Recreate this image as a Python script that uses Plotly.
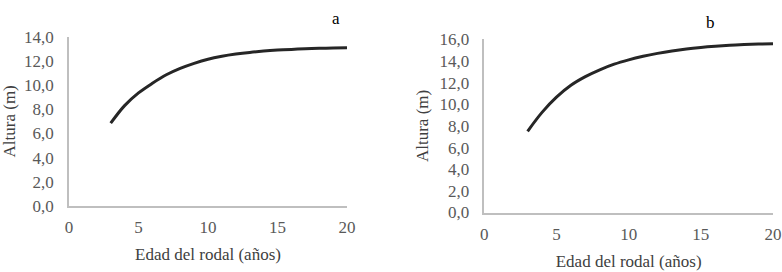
import plotly.graph_objects as go

# Data
edad = [3, 4, 5, 6, 7, 8, 9, 10, 11, 12, 13, 14, 15, 16, 17, 18, 19, 20]
altura_a = [6.85, 8.3, 9.35, 10.15, 10.85, 11.38, 11.8, 12.14, 12.38, 12.56, 12.7, 12.81, 12.89, 12.95, 13.0, 13.04, 13.06, 13.08]
altura_b = [7.5, 9.25, 10.65, 11.75, 12.55, 13.18, 13.7, 14.1, 14.43, 14.7, 14.92, 15.1, 15.24, 15.35, 15.44, 15.51, 15.56, 15.6]

x_ticks = [0, 5, 10, 15, 20]
y_ticks_a = [0, 2, 4, 6, 8, 10, 12, 14]
y_ticks_b = [0, 2, 4, 6, 8, 10, 12, 14, 16]

def fmt(v):
    return f"{v:.1f}".replace(".", ",")

FONT = "Liberation Serif"
TICK_COLOR = "#595959"
TITLE_COLOR = "#404040"
AXIS_LINE = "#bfbfbf"
LINE_COLOR = "#262626"

fig = go.Figure()
fig.add_trace(go.Scatter(x=edad, y=altura_a, mode="lines", line=dict(color=LINE_COLOR, width=3, shape="spline"),
                         xaxis="x", yaxis="y", showlegend=False))
fig.add_trace(go.Scatter(x=edad, y=altura_b, mode="lines", line=dict(color=LINE_COLOR, width=3, shape="spline"),
                         xaxis="x2", yaxis="y2", showlegend=False))

W, H = 782, 272

def xd(a, b):
    return [a / W, b / W]

def yd(bottom, top):
    return [1 - bottom / H, 1 - top / H]

common_x = dict(range=[0, 20], tickvals=x_ticks, ticktext=[str(v) for v in x_ticks], showgrid=False, zeroline=False,
                showline=True, linecolor=AXIS_LINE, linewidth=1.5, ticks="", ticklabelstandoff=5, automargin=False,
                tickfont=dict(family=FONT, size=17, color=TICK_COLOR),
                title=dict(text="Edad del rodal (años)", font=dict(family=FONT, size=17, color=TITLE_COLOR), standoff=12))
common_y = dict(showgrid=False, zeroline=False, showline=True, linecolor=AXIS_LINE, linewidth=1.5, ticks="",
                ticklabelstandoff=10, automargin=False, tickfont=dict(family=FONT, size=17, color=TICK_COLOR),
                title=dict(text="Altura (m)", font=dict(family=FONT, size=17, color=TITLE_COLOR), standoff=6))

fig.update_layout(
    width=W, height=H,
    margin=dict(l=0, r=0, t=0, b=0),
    paper_bgcolor="white", plot_bgcolor="white",
    xaxis=dict(domain=xd(69, 347), anchor="y", **common_x),
    yaxis=dict(domain=yd(206, 36.7), anchor="x", range=[0, 14], tickvals=y_ticks_a,
               ticktext=[fmt(v) for v in y_ticks_a], **common_y),
    xaxis2=dict(domain=xd(484.3, 773), anchor="y2", **common_x),
    yaxis2=dict(domain=yd(212.5, 39.3), anchor="x2", range=[0, 16], tickvals=y_ticks_b,
                ticktext=[fmt(v) for v in y_ticks_b], **common_y),
    annotations=[
        dict(text="a", x=336 / W, y=1 - 19 / H, xref="paper", yref="paper", showarrow=False,
             xanchor="center", yanchor="middle", font=dict(family=FONT, size=17, color="#000000")),
        dict(text="b", x=710.7 / W, y=1 - 22.7 / H, xref="paper", yref="paper", showarrow=False,
             xanchor="center", yanchor="middle", font=dict(family=FONT, size=17, color="#000000")),
    ],
)

fig.write_html("out.html", config={"displayModeBar": False},
               post_script="document.body.style.margin='0';")
